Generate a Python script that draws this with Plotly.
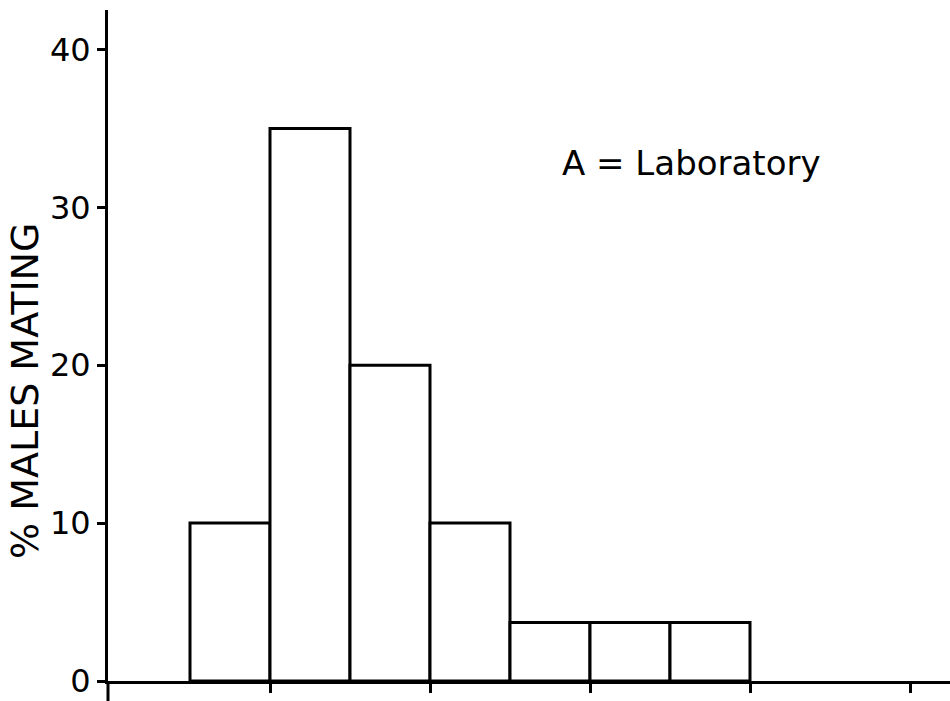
import plotly.graph_objects as go

# Data
classes = [1, 2, 3, 4, 5, 6, 7]
pct_males_mating = [10.0, 35.0, 20.0, 10.0, 3.7, 3.7, 3.7]
y_ticks = [0, 10, 20, 30, 40]
x_ticks = [1.5, 3.5, 5.5, 7.5, 9.5]
label_text = "A = Laboratory"
y_title = "% MALES MATING"

FONT = "DejaVu Sans"

fig = go.Figure()
fig.add_trace(go.Bar(
    x=classes, y=pct_males_mating, width=1,
    marker=dict(color="white", line=dict(color="black", width=3)),
    showlegend=False, hoverinfo="skip",
))

fig.update_layout(
    width=950, height=701,
    margin=dict(l=108, r=0, t=10, b=20),
    paper_bgcolor="white", plot_bgcolor="white",
    xaxis=dict(
        range=[-0.525, 10.0], showgrid=False, zeroline=False,
        showline=True, linecolor="black", linewidth=3,
        tickmode="array", tickvals=x_ticks, ticks="outside",
        ticklen=9, tickwidth=2.5, tickcolor="black", showticklabels=False,
    ),
    yaxis=dict(
        range=[0, 42.5], showgrid=False, zeroline=False,
        showline=True, linecolor="black", linewidth=3,
        tickmode="array", tickvals=y_ticks, ticks="outside",
        ticklen=8, tickwidth=2.5, tickcolor="black",
        tickfont=dict(family=FONT, size=32, color="black"),
        ticklabeloverflow="allow",
    ),
    shapes=[dict(type="line", xref="paper", yref="paper",
                 x0=0, x1=0, y0=0, y1=-0.03,
                 line=dict(color="black", width=3))],
    annotations=[
        dict(text=label_text, xref="paper", yref="paper",
             x=(691 - 108) / 842, y=(681 - 163) / 671,
             xanchor="center", yanchor="middle", showarrow=False,
             font=dict(family=FONT, size=34, color="black")),
        dict(text=y_title, xref="paper", yref="paper",
             x=(25 - 108) / 842, y=(681 - 391) / 671, textangle=-90,
             xanchor="center", yanchor="middle", showarrow=False,
             font=dict(family=FONT, size=38, color="black")),
    ],
)

fig.write_html("out.html")
